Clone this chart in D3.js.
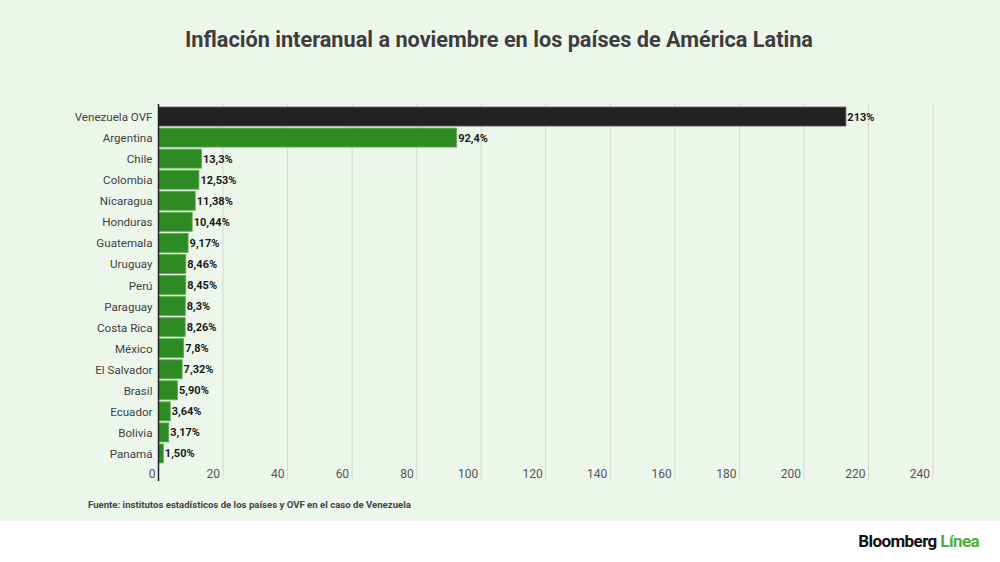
<!DOCTYPE html>
<html><head><meta charset="utf-8">
<script src="https://cdn.jsdelivr.net/npm/d3@7"></script>
<style>body{margin:0;background:#fff;}svg{display:block;font-family:Roboto,sans-serif;}</style>
</head><body>
<svg id="c" width="1000" height="562"></svg>
<script>
const countries = ["Venezuela OVF","Argentina","Chile","Colombia","Nicaragua","Honduras","Guatemala","Uruguay","Perú","Paraguay","Costa Rica","México","El Salvador","Brasil","Ecuador","Bolivia","Panamá"];
const values = [213,92.4,13.3,12.53,11.38,10.44,9.17,8.46,8.45,8.3,8.26,7.8,7.32,5.90,3.64,3.17,1.50];
const valueLabels = ["213%","92,4%","13,3%","12,53%","11,38%","10,44%","9,17%","8,46%","8,45%","8,3%","8,26%","7,8%","7,32%","5,90%","3,64%","3,17%","1,50%"];
const tickValues = [0,20,40,60,80,100,120,140,160,180,200,220,240];
const title = "Inflación interanual a noviembre en los países de América Latina";
const source = "Fuente: institutos estadísticos de los países y OVF en el caso de Venezuela";

const svg = d3.select("#c");
svg.append("rect").attr("x",0).attr("y",0).attr("width",1000).attr("height",521).attr("fill","#edf6ea");

svg.append("text").attr("x",499).attr("y",47).attr("text-anchor","middle")
  .attr("font-size",21.7).attr("font-weight","bold").attr("fill","#3d3d3d").text(title);

const x = d3.scaleLinear().domain([0,240]).range([158.5,933]);
const y = d3.scaleBand().domain(countries).range([106,464]).paddingInner(0.1).paddingOuter(0.05);

// gridlines
svg.append("g").selectAll("line").data(tickValues.slice(1)).join("line")
  .attr("x1",d=>x(d)).attr("x2",d=>x(d)).attr("y1",104).attr("y2",481)
  .attr("stroke","#d3dbd0").attr("stroke-width",1);

// bars
svg.append("g").selectAll("rect").data(countries).join("rect")
  .attr("x",x(0)).attr("y",d=>y(d)).attr("height",y.bandwidth())
  .attr("width",(d,i)=>x(values[i])-x(0))
  .attr("fill",(d,i)=>i===0?"#222222":"#2e8a23")
  .attr("stroke",(d,i)=>i===0?"#555":"#5fae52").attr("stroke-width",0.8);

// value labels
svg.append("g").selectAll("text").data(countries).join("text")
  .attr("x",(d,i)=>x(values[i])+1.5).attr("y",d=>y(d)+y.bandwidth()/2+4)
  .attr("font-size",11).attr("font-weight","bold").attr("fill","#1a1a1a")
  .text((d,i)=>valueLabels[i]);

// category labels
svg.append("g").selectAll("text").data(countries).join("text")
  .attr("x",152.5).attr("y",d=>y(d)+y.bandwidth()/2+4.5)
  .attr("text-anchor","end").attr("font-size",11.6).attr("fill","#3f3f3f").text(d=>d);

// axis line
svg.append("line").attr("x1",x(0)).attr("x2",x(0)).attr("y1",104).attr("y2",481)
  .attr("stroke","#222").attr("stroke-width",1.5);

// x tick labels
svg.append("g").selectAll("text").data(tickValues).join("text")
  .attr("x",d=>x(d)-3).attr("y",478).attr("text-anchor","end")
  .attr("font-size",12).attr("fill","#555").text(d=>d);

svg.append("text").attr("x",88).attr("y",508).attr("font-size",9.6).attr("font-weight","bold")
  .attr("fill","#444").text(source);

const logo = svg.append("text").attr("x",979).attr("y",547).attr("text-anchor","end")
  .attr("font-size",17).attr("font-weight","bold").attr("letter-spacing",-0.6);
logo.append("tspan").attr("fill","#111").text("Bloomberg ");
logo.append("tspan").attr("fill","#4caf3f").text("Línea");
</script>
</body></html>
